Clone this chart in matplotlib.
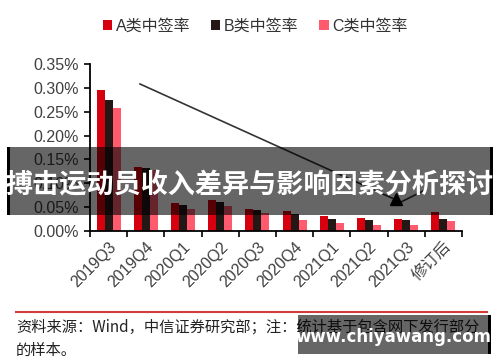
import numpy as np
import matplotlib
matplotlib.use("Agg")
import matplotlib.pyplot as plt
from matplotlib.patches import Rectangle
from matplotlib.lines import Line2D

categories = ["2019Q3", "2019Q4", "2020Q1", "2020Q2", "2020Q3",
              "2020Q4", "2021Q1", "2021Q2", "2021Q3", "修订后"]
rate_a = [0.295, 0.134, 0.058, 0.066, 0.047, 0.041, 0.031, 0.028, 0.025, 0.039]
rate_b = [0.275, 0.132, 0.054, 0.060, 0.044, 0.035, 0.026, 0.023, 0.023, 0.025]
rate_c = [0.258, 0.127, 0.047, 0.053, 0.037, 0.023, 0.016, 0.012, 0.012, 0.021]
series_names = ["A类中签率", "B类中签率", "C类中签率"]
yticks = [0.00, 0.05, 0.10, 0.15, 0.20, 0.25, 0.30, 0.35]

colors = ["#d7000f", "#231815", "#ff5a6e"]
latin_cjk = ["Liberation Sans", "Noto Sans CJK SC"]
cjk = ["Noto Sans CJK SC", "DejaVu Sans"]

W, H = 500, 362


def fx(x):
    return x / W


def fy(y):
    return 1 - y / H


fig = plt.figure(figsize=(5, 3.62), dpi=100)
ax = fig.add_axes([fx(90), fy(231), fx(462) - fx(90), fy(64) - fy(231)])

x = np.arange(len(categories))
bw = 0.215
for i, (vals, c) in enumerate(zip([rate_a, rate_b, rate_c], colors)):
    ax.bar(x + (i - 1) * bw, vals, width=bw, color=c, label=series_names[i], zorder=2)

ax.set_xlim(-0.5, len(categories) - 0.5)
ax.set_ylim(0, 0.35)
ax.set_yticks(yticks)
ax.set_yticklabels([f"{v:.2f}%" for v in yticks], family=latin_cjk, fontsize=11.5, color="#404040")
ax.set_xticks(x)
ax.set_xticklabels(categories, rotation=45, ha="right", rotation_mode="anchor",
                   family=latin_cjk, fontsize=11.5, color="#404040")
ax.tick_params(axis="x", length=0, pad=6)
ax.set_xticks(np.arange(len(categories) + 1) - 0.5, minor=True)
ax.tick_params(axis="x", which="minor", length=4, width=1.2, color="black", direction="out")
ax.tick_params(axis="y", length=4, width=1.2, color="black", direction="out", pad=4)
for s in ["top", "right"]:
    ax.spines[s].set_visible(False)
for s in ["left", "bottom"]:
    ax.spines[s].set_linewidth(1.3)
    ax.spines[s].set_color("black")

# trend arrow
fig.add_artist(Line2D([fx(140), fx(394)], [fy(84), fy(199)], color="#333333", lw=1.2, zorder=3))
fig.add_artist(Line2D([fx(399), fx(425)], [fy(203), fy(190)], color="#333333", lw=1.2, zorder=3))
fig.add_artist(Line2D([fx(396)], [fy(199)], marker="^", markersize=8, color="black", zorder=3))

# legend
fig.legend(loc="center", bbox_to_anchor=(fx(255), fy(26)), ncol=3, frameon=False,
           handlelength=0.6, handleheight=0.6, handletextpad=0.2, columnspacing=1.3,
           prop={"family": latin_cjk, "size": 11.5}, labelcolor="#333333")

# banner overlay
fig.add_artist(Rectangle((fx(7), fy(215)), fx(493) - fx(7), fy(147) - fy(215),
                         transform=fig.transFigure, facecolor="black", alpha=0.6,
                         edgecolor="none", zorder=5))
fig.add_artist(Rectangle((fx(7), fy(215)), fx(3), fy(147) - fy(215),
                         transform=fig.transFigure, facecolor="black", edgecolor="none", zorder=5))
fig.add_artist(Rectangle((fx(490), fy(215)), fx(3), fy(147) - fy(215),
                         transform=fig.transFigure, facecolor="black", edgecolor="none", zorder=5))
fig.text(fx(250), fy(185), "搏击运动员收入差异与影响因素分析探讨", ha="center", va="center",
         color="white", fontsize=19.5, fontweight="bold", family=cjk, zorder=6)

# footer
fig.add_artist(Line2D([fx(16), fx(487)], [fy(312), fy(312)], color="#d23c3c", lw=1.5))
fig.text(fx(16), fy(327), "资料来源：Wind，中信证券研究部；注：统计基于包含网下发行部分",
         ha="left", va="center", fontsize=11, family=cjk, color="#222222")
fig.text(fx(16), fy(350), "的样本。", ha="left", va="center", fontsize=11, family=cjk, color="#222222")

# watermark
fig.add_artist(Rectangle((fx(298), fy(354)), fx(490) - fx(298), fy(315) - fy(354),
                         transform=fig.transFigure, facecolor="black", alpha=0.6,
                         edgecolor="none", zorder=5))
fig.add_artist(Rectangle((fx(488), fy(354)), fx(2.5), fy(315) - fy(354),
                         transform=fig.transFigure, facecolor="black", edgecolor="none", zorder=5))
fig.text(fx(393), fy(337), "www.chiyawang.com", ha="center", va="center",
         color="white", fontsize=12, fontweight="bold", family=["DejaVu Sans"], zorder=6)

fig.savefig("out.png", dpi=100)
